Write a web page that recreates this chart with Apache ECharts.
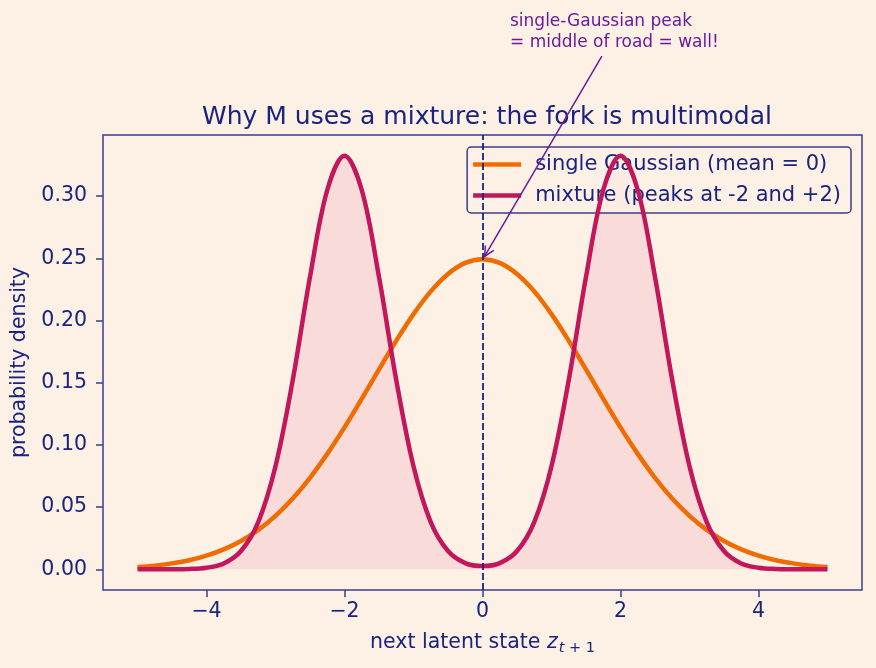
<!DOCTYPE html>
<html>
<head>
<meta charset="utf-8">
<script src="https://cdn.jsdelivr.net/npm/echarts@6/dist/echarts.min.js"></script>
<style>
  html, body { margin: 0; padding: 0; background: #fdf1e6; }
  #chart { width: 876px; height: 668px; }
</style>
</head>
<body>
<div id="chart"></div>
<script>
// sample positions on the latent axis
const xs = [-5, -4.75, -4.5, -4.25, -4, -3.75, -3.5, -3.25, -3, -2.75, -2.5, -2.25, -2, -1.75, -1.5, -1.25, -1, -0.75, -0.5, -0.25,
  0, 0.25, 0.5, 0.75, 1, 1.25, 1.5, 1.75, 2, 2.25, 2.5, 2.75, 3, 3.25, 3.5, 3.75, 4, 4.25, 4.5, 4.75, 5];

// single Gaussian, mean 0
const singleGauss = [0.0019, 0.0030, 0.0048, 0.0073, 0.0110, 0.0160, 0.0228, 0.0317, 0.0430, 0.0569, 0.0736, 0.0928, 0.1141, 0.1371, 0.1607, 0.1837, 0.2051, 0.2234, 0.2374, 0.2463,
  0.2493, 0.2463, 0.2374, 0.2234, 0.2051, 0.1837, 0.1607, 0.1371, 0.1141, 0.0928, 0.0736, 0.0569, 0.0430, 0.0317, 0.0228, 0.0160, 0.0110, 0.0073, 0.0048, 0.0030, 0.0019];

// two-bump mixture, peaks at -2 / +2
const mixture = [0.0000, 0.0000, 0.0001, 0.0003, 0.0013, 0.0047, 0.0147, 0.0380, 0.0829, 0.1522, 0.2350, 0.3049, 0.3325, 0.3049, 0.2350, 0.1522, 0.0829, 0.0380, 0.0147, 0.0050,
  0.0026, 0.0050, 0.0147, 0.0380, 0.0829, 0.1522, 0.2350, 0.3049, 0.3325, 0.3049, 0.2350, 0.1522, 0.0829, 0.0380, 0.0147, 0.0047, 0.0013, 0.0003, 0.0001, 0.0000, 0.0000];

const xTicks = [-4, -2, 0, 2, 4];
const yTicks = [0, 0.05, 0.10, 0.15, 0.20, 0.25, 0.30];

const NAVY = '#1a237e';
const SPINE = '#3d3d8a';
const ORANGE = '#ef6c00';
const CRIMSON = '#c2185b';
const PURPLE = '#6a1b9a';
const FONT = 'DejaVu Sans';

const pairs = (ys) => xs.map((x, i) => [x, ys[i]]);

const chart = echarts.init(document.getElementById('chart'));

chart.setOption({
  backgroundColor: '#fdf1e6',
  animation: false,
  textStyle: { fontFamily: FONT },
  title: {
    text: 'Why M uses a mixture: the fork is multimodal',
    left: 482, textAlign: 'center', top: 100,
    textStyle: { color: NAVY, fontSize: 25, fontWeight: 'normal', fontFamily: FONT }
  },
  grid: {
    left: 103, right: 14, top: 135, bottom: 78,
    show: true, borderColor: SPINE, borderWidth: 1.5, backgroundColor: 'transparent'
  },
  legend: {
    data: ['single Gaussian (mean = 0)', 'mixture (peaks at -2 and +2)'],
    orient: 'vertical', right: 25, top: 147,
    icon: 'rect', itemWidth: 48, itemHeight: 4.5, itemGap: 10,
    padding: [7, 10, 7, 6],
    backgroundColor: 'rgba(253,241,230,0.8)', borderColor: SPINE, borderWidth: 1.5, borderRadius: 4,
    textStyle: { color: NAVY, fontSize: 21, fontFamily: FONT, padding: [0, 0, 0, 9] }
  },
  xAxis: {
    type: 'value', min: -5.5, max: 5.5,
    name: '{n|next latent state }{z|z}{t|t}{p| + 1}',
    nameLocation: 'middle', nameGap: 39,
    nameTextStyle: {
      rich: {
        n: { color: NAVY, fontSize: 20.5, fontFamily: FONT },
        z: { color: NAVY, fontSize: 20.5, fontFamily: FONT, fontStyle: 'italic' },
        t: { color: NAVY, fontSize: 14.5, fontFamily: FONT, fontStyle: 'italic', verticalAlign: 'bottom', padding: [12, 0, 0, 1] },
        p: { color: NAVY, fontSize: 14.5, fontFamily: FONT, verticalAlign: 'bottom', padding: [12, 0, 0, 0] }
      }
    },
    splitLine: { show: false },
    axisLine: { show: false, onZero: false },
    axisTick: { show: true, length: 7, lineStyle: { color: SPINE, width: 1.5 }, customValues: xTicks },
    axisLabel: {
      color: NAVY, fontSize: 20.5, fontFamily: FONT, margin: 11, customValues: xTicks,
      formatter: (v) => (v < 0 ? '\u2212' + Math.abs(v) : String(v))
    }
  },
  yAxis: {
    type: 'value', min: -0.0166, max: 0.3491,
    name: 'probability density',
    nameLocation: 'middle', nameGap: 68, nameRotate: 90,
    nameTextStyle: { color: NAVY, fontSize: 20.5, fontFamily: FONT },
    splitLine: { show: false },
    axisLine: { show: false, onZero: false },
    axisTick: { show: true, length: 7, lineStyle: { color: SPINE, width: 1.5 }, customValues: yTicks },
    axisLabel: {
      color: NAVY, fontSize: 20.5, fontFamily: FONT, margin: 16, customValues: yTicks,
      formatter: (v) => v.toFixed(2)
    }
  },
  series: [
    {
      // shaded area under the mixture
      name: 'mixture-fill', type: 'line', data: pairs(mixture),
      smooth: 0.35, showSymbol: false, silent: true, z: 1,
      lineStyle: { width: 1, color: 'rgba(210,34,116,0.16)' },
      itemStyle: { color: CRIMSON },
      areaStyle: { color: 'rgba(210,34,116,0.14)', origin: 0 }
    },
    {
      name: 'single Gaussian (mean = 0)', type: 'line', data: pairs(singleGauss),
      smooth: 0.35, showSymbol: false, z: 3,
      lineStyle: { width: 4.5, color: ORANGE }, itemStyle: { color: ORANGE },
      markLine: {
        silent: true, symbol: ['none', 'none'], label: { show: false },
        lineStyle: { color: NAVY, width: 1.8, type: [7, 3] },
        data: [{ xAxis: 0 }]
      }
    },
    {
      name: 'mixture (peaks at -2 and +2)', type: 'line', data: pairs(mixture),
      smooth: 0.35, showSymbol: false, z: 4,
      lineStyle: { width: 4.5, color: CRIMSON }, itemStyle: { color: CRIMSON }
    }
  ]
});

// annotation: text + arrow pointing at the single-Gaussian peak
const tip = chart.convertToPixel({ gridIndex: 0 }, [0.03, 0.2515]);
const tail = chart.convertToPixel({ gridIndex: 0 }, [1.73, 0.4125]);
const ang = Math.atan2(tip[1] - tail[1], tip[0] - tail[0]);
const hl = 11, ha = 0.45;
const head = [
  [tip[0] - hl * Math.cos(ang - ha), tip[1] - hl * Math.sin(ang - ha)],
  tip,
  [tip[0] - hl * Math.cos(ang + ha), tip[1] - hl * Math.sin(ang + ha)]
];

chart.setOption({
  graphic: [
    {
      type: 'text', left: 510, top: 11, z: 10,
      style: {
        text: 'single-Gaussian peak\n= middle of road = wall!',
        fill: PURPLE, font: '17px "DejaVu Sans"', lineHeight: 21
      }
    },
    {
      type: 'line', z: 10, silent: true,
      shape: { x1: tail[0], y1: tail[1], x2: tip[0], y2: tip[1] },
      style: { stroke: PURPLE, lineWidth: 1.5 }
    },
    {
      type: 'polyline', z: 10, silent: true,
      shape: { points: head },
      style: { stroke: PURPLE, lineWidth: 1.5, fill: null }
    }
  ]
});
</script>
</body>
</html>
